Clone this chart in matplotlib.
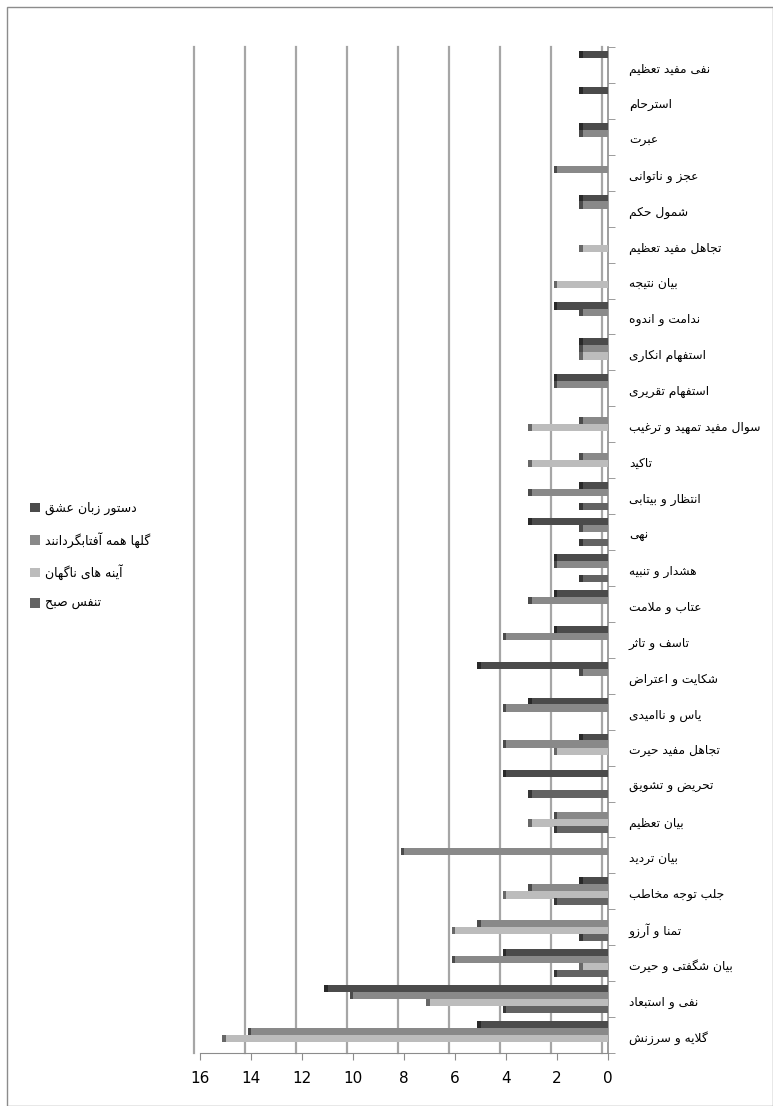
import numpy as np
import matplotlib
matplotlib.use('Agg')
import matplotlib.pyplot as plt
from matplotlib.patches import Rectangle, Patch
from matplotlib.transforms import ScaledTranslation

# categories, listed from the bottom of the chart to the top
categories = [
    'گلایه و سرزنش', 'نفی و استبعاد', 'بیان شگفتی و حیرت', 'تمنا و آرزو',
    'جلب توجه مخاطب', 'بیان تردید', 'بیان تعظیم', 'تحریض و تشویق',
    'تجاهل مفید حیرت', 'یاس و ناامیدی', 'شکایت و اعتراض', 'تاسف و تاثر',
    'عتاب و ملامت', 'هشدار و تنبیه', 'نهی', 'انتظار و بیتابی', 'تاکید',
    'سوال مفید تمهید و ترغیب', 'استفهام تقریری', 'استفهام انکاری',
    'ندامت و اندوه', 'بیان نتیجه', 'تجاهل مفید تعظیم', 'شمول حکم',
    'عجز و ناتوانی', 'عبرت', 'استرحام', 'نفی مفید تعظیم',
]

# one list per book (series)
dastoor = [5, 11, 4, 0, 1, 0, 0, 4, 1, 3, 5, 2, 2, 2, 3, 1, 0, 0, 2, 1, 2, 0, 0, 1, 0, 1, 1, 1]
golha = [14, 10, 6, 5, 3, 8, 2, 0, 4, 4, 1, 4, 3, 2, 1, 3, 1, 1, 2, 1, 1, 0, 0, 1, 2, 1, 0, 0]
ayeneh = [15, 7, 1, 6, 4, 0, 3, 0, 2, 0, 0, 0, 0, 0, 0, 0, 3, 3, 0, 1, 0, 2, 1, 0, 0, 0, 0, 0]
tanaffos = [0, 4, 2, 1, 2, 0, 2, 3, 0, 0, 0, 0, 0, 1, 1, 1, 0, 0, 0, 0, 0, 0, 0, 0, 0, 0, 0, 0]

series_names = ['دستور زبان عشق', 'گلها همه آفتابگردانند', 'آینه های ناگهان', 'تنفس صبح']
x_ticks = [0, 2, 4, 6, 8, 10, 12, 14, 16]

# --- simple Persian shaping (matplotlib has no text shaping of its own) ---
FORMS = {
    'ا': ('\uFE8D', '\uFE8E'), 'آ': ('\uFE81', '\uFE82'),
    'د': ('\uFEA9', '\uFEAA'), 'ذ': ('\uFEAB', '\uFEAC'),
    'ر': ('\uFEAD', '\uFEAE'), 'ز': ('\uFEAF', '\uFEB0'),
    'ژ': ('\uFB8A', '\uFB8B'), 'و': ('\uFEED', '\uFEEE'),
    'ب': ('\uFE8F', '\uFE90', '\uFE91', '\uFE92'),
    'پ': ('\uFB56', '\uFB57', '\uFB58', '\uFB59'),
    'ت': ('\uFE95', '\uFE96', '\uFE97', '\uFE98'),
    'ث': ('\uFE99', '\uFE9A', '\uFE9B', '\uFE9C'),
    'ج': ('\uFE9D', '\uFE9E', '\uFE9F', '\uFEA0'),
    'چ': ('\uFB7A', '\uFB7B', '\uFB7C', '\uFB7D'),
    'ح': ('\uFEA1', '\uFEA2', '\uFEA3', '\uFEA4'),
    'خ': ('\uFEA5', '\uFEA6', '\uFEA7', '\uFEA8'),
    'س': ('\uFEB1', '\uFEB2', '\uFEB3', '\uFEB4'),
    'ش': ('\uFEB5', '\uFEB6', '\uFEB7', '\uFEB8'),
    'ص': ('\uFEB9', '\uFEBA', '\uFEBB', '\uFEBC'),
    'ض': ('\uFEBD', '\uFEBE', '\uFEBF', '\uFEC0'),
    'ط': ('\uFEC1', '\uFEC2', '\uFEC3', '\uFEC4'),
    'ظ': ('\uFEC5', '\uFEC6', '\uFEC7', '\uFEC8'),
    'ع': ('\uFEC9', '\uFECA', '\uFECB', '\uFECC'),
    'غ': ('\uFECD', '\uFECE', '\uFECF', '\uFED0'),
    'ف': ('\uFED1', '\uFED2', '\uFED3', '\uFED4'),
    'ق': ('\uFED5', '\uFED6', '\uFED7', '\uFED8'),
    'ک': ('\uFB8E', '\uFB8F', '\uFB90', '\uFB91'),
    'گ': ('\uFB92', '\uFB93', '\uFB94', '\uFB95'),
    'ل': ('\uFEDD', '\uFEDE', '\uFEDF', '\uFEE0'),
    'م': ('\uFEE1', '\uFEE2', '\uFEE3', '\uFEE4'),
    'ن': ('\uFEE5', '\uFEE6', '\uFEE7', '\uFEE8'),
    'ه': ('\uFEE9', '\uFEEA', '\uFEEB', '\uFEEC'),
    'ی': ('\uFBFC', '\uFBFD', '\uFBFE', '\uFBFF'),
    'ئ': ('\uFE89', '\uFE8A', '\uFE8B', '\uFE8C'),
}
LAM_ALEF = {'ا': ('\uFEFB', '\uFEFC'), 'آ': ('\uFEF5', '\uFEF6')}


def shape(text):
    out = []
    i = 0
    n = len(text)
    while i < n:
        ch = text[i]
        prev = text[i - 1] if i > 0 else ''
        prev_joins = prev in FORMS and len(FORMS[prev]) == 4
        if ch not in FORMS:
            out.append(ch)
            i += 1
            continue
        if ch == 'ل' and i + 1 < n and text[i + 1] in LAM_ALEF:
            lig = LAM_ALEF[text[i + 1]]
            out.append(lig[1] if prev_joins else lig[0])
            i += 2
            continue
        nxt = text[i + 1] if i + 1 < n else ''
        next_joins = nxt in FORMS
        f = FORMS[ch]
        if len(f) == 4:
            if prev_joins and next_joins:
                g = f[3]
            elif prev_joins:
                g = f[1]
            elif next_joins:
                g = f[2]
            else:
                g = f[0]
        else:
            g = f[1] if prev_joins else f[0]
        out.append(g)
        i += 1
    return ''.join(reversed(out))


colors = ['#4b4b4b', '#898989', '#bcbcbc', '#636363']
offsets = [0.29, 0.10, -0.10, -0.29]
bar_h = 0.2

plt.rcParams['font.family'] = ['DejaVu Sans']

fig = plt.figure(figsize=(7.73, 11.06), dpi=100)
fig.patches.append(Rectangle((7 / 773, 0), 1 - 7 / 773, 1 - 7 / 1106,
                             transform=fig.transFigure, fill=False,
                             edgecolor='#8c8c8c', linewidth=1.0))

ax = fig.add_axes([200 / 773, 1 - 1053 / 1106, 408 / 773, 1006 / 1106])

y = np.arange(len(categories))
all_series = [dastoor, golha, ayeneh, tanaffos]
for vals, col, off in zip(all_series, colors, offsets):
    vals = np.array(vals, dtype=float)
    ax.barh(y + off, vals, height=bar_h, color=col, edgecolor='none', zorder=3)
    # darker end cap to fake the 3D look
    mask = vals > 0
    cap = tuple(0.55 * c for c in matplotlib.colors.to_rgb(col))
    ax.barh(y[mask] + off, 0.13, left=vals[mask], height=bar_h,
            color=cap, edgecolor='none', zorder=3)

ax.set_xlim(16, 0)
ax.set_ylim(-0.5, len(categories) - 0.5)
ax.set_xticks(x_ticks)
ax.set_xticklabels([str(t) for t in x_ticks], fontsize=11)
ax.tick_params(axis='x', length=5, color='#8c8c8c', pad=8)

ax.yaxis.tick_right()
ax.set_yticks(y - 0.05)
ax.set_yticklabels([shape(c) for c in categories], fontsize=8.8)
ax.set_yticks(np.arange(len(categories) + 1) - 0.5, minor=True)
ax.tick_params(axis='y', which='major', length=0, pad=15)
ax.tick_params(axis='y', which='minor', length=5, color='#8c8c8c', direction='out')

ax.grid(axis='x', color='#a6a6a6', linewidth=1.6, zorder=0)
shift = ScaledTranslation(-6 / 100, 0, fig.dpi_scale_trans)
for gl in ax.get_xgridlines():
    gl.set_transform(gl.get_transform() + shift)
    gl.set_clip_on(False)

for side in ['top', 'left']:
    ax.spines[side].set_visible(False)
ax.spines['right'].set_color('#8c8c8c')
ax.spines['bottom'].set_color('#8c8c8c')
ax.spines['right'].set_linewidth(1.2)

handles = [Patch(facecolor=c, edgecolor='none') for c in colors]
fig.legend(handles, [shape(s) for s in series_names], loc='center left',
           bbox_to_anchor=(19 / 773, 1 - 556 / 1106), frameon=False,
           handlelength=0.75, handleheight=0.75, handletextpad=0.4,
           labelspacing=1.35, fontsize=9)

fig.savefig('out.png', dpi=100)
